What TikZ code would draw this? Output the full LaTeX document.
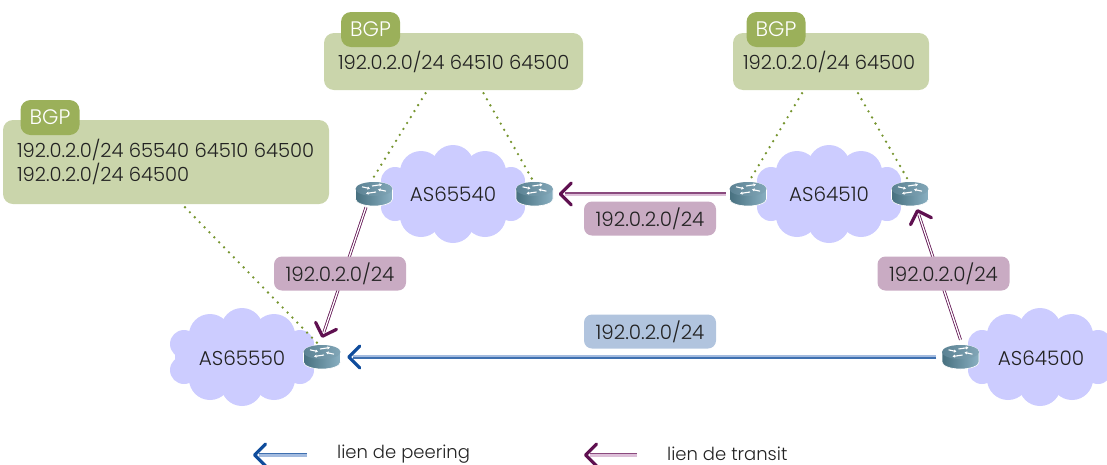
\documentclass[tikz,border=0pt]{standalone}
\usepackage{fontspec}
\setmainfont{Poppins}[UprightFont=* Light]
\usetikzlibrary{arrows.meta,calc}
\definecolor{boxgreen}{HTML}{CAD5AB}
\definecolor{taggreen}{HTML}{9BB05A}
\definecolor{cloudc}{HTML}{CCCCFF}
\definecolor{pillp}{HTML}{C9ABC3}
\definecolor{pillb}{HTML}{B1C4DE}
\definecolor{pdark}{HTML}{5F1050}
\definecolor{pmid}{HTML}{8A4A7E}
\definecolor{plight}{HTML}{DDBFD8}
\definecolor{bdark}{HTML}{0F4C9C}
\definecolor{bmid}{HTML}{3F70B0}
\definecolor{blight}{HTML}{A3BBDF}
\definecolor{dotg}{HTML}{76952F}
\definecolor{txt}{HTML}{222222}
\definecolor{rbl}{HTML}{47707F}
\definecolor{rbr}{HTML}{8AB0C2}
\definecolor{rtl}{HTML}{5B8293}
\definecolor{rtr}{HTML}{82A6B7}
\tikzset{
  x=1pt,y=-1pt,
  bgpbox/.style={fill=boxgreen,rounded corners=10pt,minimum height=#1,inner sep=0pt},
  bgptext/.style={text=txt,font=\fontsize{19.5}{24}\selectfont,align=left,inner xsep=0pt,inner ysep=0pt,anchor=center},
  tagbox/.style={fill=taggreen,rounded corners=10pt,minimum width=59pt,minimum height=35pt,inner sep=0pt,text=white,font=\fontsize{21}{24}\selectfont},
  pill/.style={fill=#1,rounded corners=8pt,minimum width=132pt,minimum height=34pt,inner sep=0pt,text=txt,font=\fontsize{19.9}{22}\selectfont},
  aslabel/.style={text=txt,font=\fontsize{20}{24}\selectfont,inner sep=0pt},
  legendtext/.style={text=txt,font=\fontsize{18}{22}\selectfont,inner sep=0pt,anchor=west},
  routernode/.style={minimum width=38pt,minimum height=24pt,inner sep=0pt},
  dotlink/.style={dotg,line width=2.6pt,line cap=round,dash pattern=on 0pt off 7pt},
  plink/.style={pdark,line width=.8pt,double=white,double distance=1.3pt},
  ptip/.style={pdark,line width=.8pt,-{Straight Barb[length=11pt,width=22pt,line width=3.2pt,round]}},
  btip/.style={bdark,line width=.8pt,-{Straight Barb[length=11pt,width=22pt,line width=3.2pt,round]}},
  cloudpic/.pic={
    \begin{scope}[y=1pt]
    \fill[cloudc] (0,28) circle[radius=21] (-32,22) circle[radius=21] (32,22) circle[radius=21]
      (-58,13) circle[radius=14] (58,13) circle[radius=14]
      (-58,-13) circle[radius=14] (58,-13) circle[radius=14]
      (-32,-22) circle[radius=21] (32,-22) circle[radius=21] (0,-28) circle[radius=21];
    \fill[cloudc] (-60,-18) rectangle (60,18);
    \fill[cloudc] (-67,-8) rectangle (67,8);
    \end{scope}
  },
  routerpic/.pic={
    \begin{scope}[y=1pt]
    \shade[left color=rbl,right color=rbr,draw=white,line width=.6pt]
      (-18.5,5) -- (-18.5,-5) arc[start angle=180,end angle=360,x radius=18.5,y radius=7]
      -- (18.5,5) arc[start angle=0,end angle=180,x radius=18.5,y radius=7] -- cycle;
    \shade[left color=rtl,right color=rtr] (0,5) ellipse[x radius=18.5,y radius=7];
    \draw[white,line width=1.1pt,-{Latex[length=2.5pt,width=3.5pt]}] (-12,7.2) -- (-4,5.4);
    \draw[white,line width=1.1pt,-{Latex[length=2.5pt,width=3.5pt]}] (12,2.8) -- (4,4.6);
    \draw[white,line width=1.1pt,-{Latex[length=2.5pt,width=3.5pt]}] (-2,8) -- (8,9.5);
    \draw[white,line width=1.1pt,-{Latex[length=2.5pt,width=3.5pt]}] (2,2) -- (-8,.5);
    \end{scope}
  }
}
\begin{document}
\begin{tikzpicture}
\useasboundingbox (0,0) rectangle (1107,464);
\clip (0,0) rectangle (1107,464);
% clouds
\pic at (453,194) {cloudpic};
\pic at (829,194) {cloudpic};
\pic at (242,357) {cloudpic};
\pic at (1040,357) {cloudpic};
\node[aslabel] (as1) at (453,194) {AS65540};
\node[aslabel] (as2) at (829,194) {AS64510};
\node[aslabel] (as3) at (242,358) {AS65550};
\node[aslabel] (as4) at (1041,358) {AS64500};
% routers
\pic at (374,194) {routerpic}; \node[routernode] (r1) at (374,194) {};
\pic at (534.5,194) {routerpic}; \node[routernode] (r2) at (534.5,194) {};
\pic at (748,194) {routerpic}; \node[routernode] (r3) at (748,194) {};
\pic at (910,194) {routerpic}; \node[routernode] (r4) at (910,194) {};
\pic at (322,357) {routerpic}; \node[routernode] (r5) at (322,357) {};
\pic at (960.5,357) {routerpic}; \node[routernode] (r6) at (960.5,357) {};
% BGP boxes
\node[bgpbox=57pt,minimum width=259pt,bgptext] (b1) at (453.5,61.5) {\parbox{231pt}{\mbox{192.0.2.0/24 64510 64500}}};
\node[bgpbox=57pt,minimum width=196pt,bgptext] (b2) at (831,61.5) {\parbox{176pt}{\mbox{192.0.2.0/24 64500}}};
\node[bgpbox=84pt,minimum width=326pt,bgptext] (b3) at (166,162) {\parbox{298pt}{\mbox{192.0.2.0/24 65540 64510 64500}\\\mbox{192.0.2.0/24 64500}}};
\node[tagbox] (t1) at (370.5,29.5) {BGP};
\node[tagbox] (t2) at (776,29.5) {BGP};
\node[tagbox] (t3) at (50,117.5) {BGP};
% dotted leaders
\draw[dotlink] ([xshift=-28pt,yshift=-3pt]b1.south) -- ([xshift=-2pt,yshift=2pt]r1.north);
\draw[dotlink] ([xshift=30pt,yshift=-3pt]b1.south) -- ([xshift=-2pt,yshift=2pt]r2.north);
\draw[dotlink] ([xshift=-29pt,yshift=-3pt]b2.south) -- ([xshift=2pt,yshift=2pt]r3.north);
\draw[dotlink] ([xshift=27pt,yshift=-3pt]b2.south) -- ([xshift=-2pt,yshift=2pt]r4.north);
\draw[dotlink] ([xshift=19pt,yshift=-3pt]b3.south) -- ([xshift=-4pt,yshift=1pt]r5.north);
% links
\draw[plight,line width=2pt,shorten >=6pt,transform canvas={yshift=-.8pt}] ([xshift=-3pt]r3.west) -- ([xshift=5pt]r2.east);
\draw[pmid,line width=1.2pt,shorten >=6pt,transform canvas={yshift=1.1pt}] ([xshift=-3pt]r3.west) -- ([xshift=5pt]r2.east);
\draw[ptip] ($([xshift=5pt]r2.east)+(3,0)$) -- ([xshift=5pt]r2.east);
\draw[plink,shorten >=6pt] ([xshift=-8pt,yshift=-1pt]r1.south) -- ([yshift=7pt]r5.north);
\draw[ptip] ($([yshift=7pt]r5.north)!3pt!([xshift=-8pt,yshift=-1pt]r1.south)$) -- ([yshift=7pt]r5.north);
\draw[plink,shorten >=6pt] ([yshift=5pt]r6.north) -- ([xshift=7pt,yshift=-3pt]r4.south);
\draw[ptip] ($([xshift=7pt,yshift=-3pt]r4.south)!3pt!([yshift=5pt]r6.north)$) -- ([xshift=7pt,yshift=-3pt]r4.south);
\draw[blight,line width=2pt,shorten >=6pt,transform canvas={yshift=.9pt}] ([xshift=-5pt]r6.west) -- ([xshift=6pt]r5.east);
\draw[bmid,line width=1.2pt,shorten >=6pt,transform canvas={yshift=-1pt}] ([xshift=-5pt]r6.west) -- ([xshift=6pt]r5.east);
\draw[btip] ($([xshift=6pt]r5.east)+(3,0)$) -- ([xshift=6pt]r5.east);
% pills
\node[pill=pillp] (l1) at (650,218.5) {192.0.2.0/24};
\node[pill=pillp] (l2) at (340,273.5) {192.0.2.0/24};
\node[pill=pillp] (l3) at (943.5,273.5) {192.0.2.0/24};
\node[pill=pillb] (l4) at (650,331.5) {192.0.2.0/24};
% legend
\coordinate (c1a) at (307,455); \coordinate (c1b) at (253,455);
\coordinate (c2a) at (637,455); \coordinate (c2b) at (584,455);
\draw[blight,line width=3.6pt,shorten >=6pt] (c1a) -- (c1b);
\draw[bmid,line width=.7pt,shorten >=6pt,transform canvas={yshift=1.3pt}] (c1a) -- (c1b);
\draw[btip] ($(c1b)+(3,0)$) -- (c1b);
\draw[plight,line width=3.6pt,shorten >=6pt] (c2a) -- (c2b);
\draw[pmid,line width=.7pt,shorten >=6pt,transform canvas={yshift=1.3pt}] (c2a) -- (c2b);
\draw[ptip] ($(c2b)+(3,0)$) -- (c2b);
\node[legendtext] (k1) at (337,454) {lien de peering};
\node[legendtext] (k2) at (667,454) {lien de transit};
\end{tikzpicture}
\end{document}
